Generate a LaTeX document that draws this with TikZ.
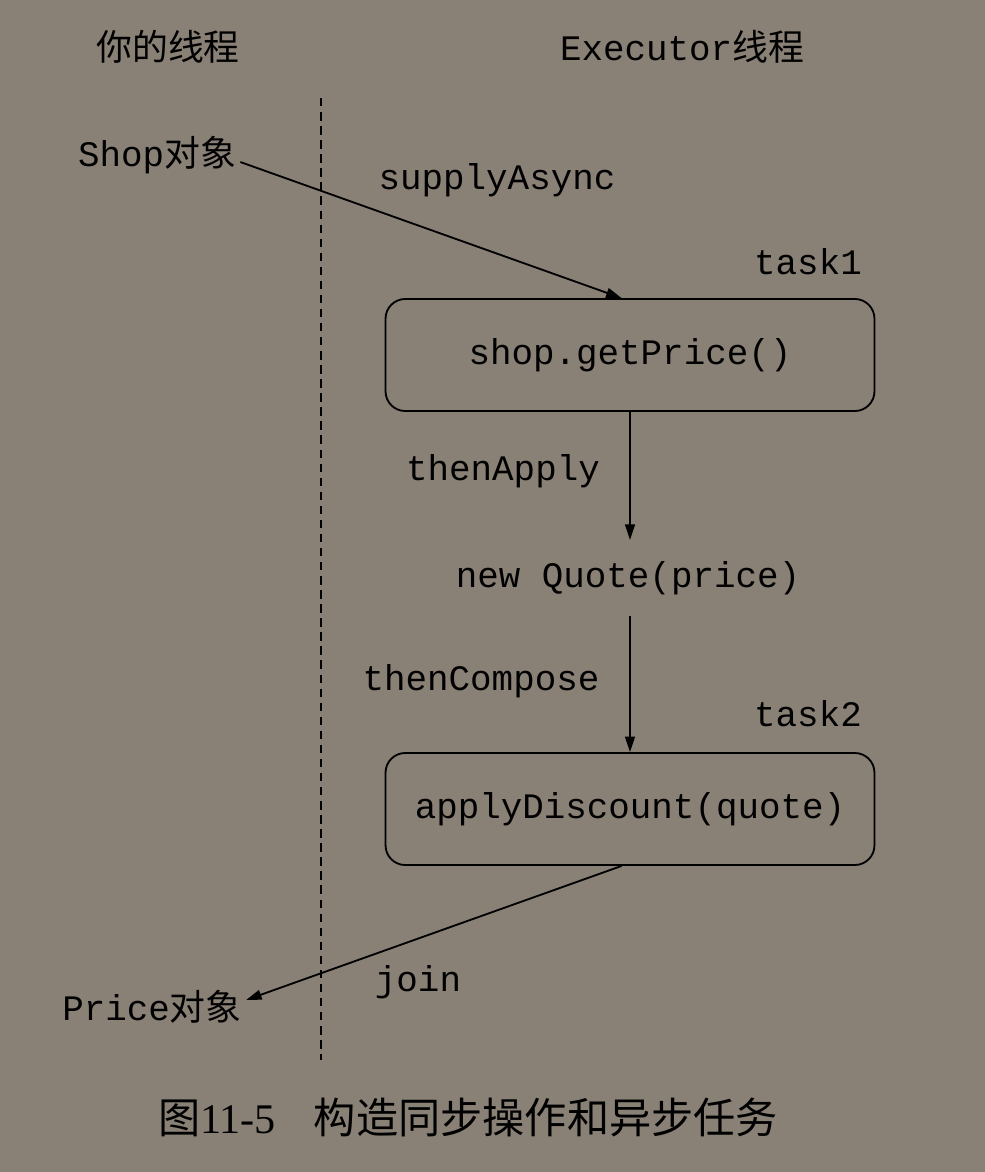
\documentclass[tikz,border=0pt]{standalone}
\usepackage{fontspec}
\setmainfont{Liberation Serif}
\setmonofont{Liberation Mono}
\newfontfamily\cjk{Noto Sans CJK SC}
\usepackage{tikz}
\usetikzlibrary{arrows.meta}
\definecolor{paper}{RGB}{137,128,118}

\begin{document}
\begin{tikzpicture}[x=0.025cm, y=-0.025cm,
        code/.style={font=\fontsize{25.5}{30}\selectfont\ttfamily, inner sep=3pt},
        taskbox/.style={draw, line width=1.3pt, rounded corners=14pt, minimum width=12.22cm, minimum height=2.8cm, code},
        flow/.style={-{Triangle[length=11pt,width=7pt]}, line width=1.3pt}]
        \fill[paper] (0,0) rectangle (985,1172);
        \useasboundingbox (0,0) rectangle (985,1172);

        \node[code] (yours) at (168,47) {\cjk 你的线程};
        \node[code] (exec) at (682,47) {Executor{\cjk 线程}};
        \coordinate (top) at (321,98);
        \coordinate (bottom) at (321,1060);
        \draw[line width=1pt, dash pattern=on 6pt off 4pt] (top) -- (bottom);

        \node[code] (shop) at (157,155) {Shop{\cjk 对象}};
        \node[code] (supply) at (497,180) {supplyAsync};
        \node[code] (task1) at (808,262) {task1};
        \node[taskbox] (t1) at (630,355) {shop.getPrice()};
        \node[code] (apply) at (503,471) {thenApply};
        \node[code, inner ysep=15pt] (quote) at (628,578) {new Quote(price)};
        \node[code] (compose) at (481,681) {thenCompose};
        \node[code] (task2) at (808,714) {task2};
        \node[taskbox] (t2) at (630,809) {applyDiscount(quote)};
        \node[code] (join) at (418,982) {join};
        \node[code] (price) at (152,1007) {Price{\cjk 对象}};

        \draw[flow] ([yshift=-5pt]shop.east) -- ([xshift=-6pt]t1.north);
        \draw[flow] (t1.south) -- (t1.south |- quote.north);
        \draw[flow] (t1.south |- quote.south) -- (t2.north);
        \draw[flow] ([xshift=-6pt]t2.south) -- ([yshift=5pt]price.east);

        \node[font=\fontsize{30}{36}\selectfont] (caption) at (468,1117) {{\cjk 图}11-5\hspace{0.9em}{\cjk 构造同步操作和异步任务}};
    \end{tikzpicture}
\end{document}
